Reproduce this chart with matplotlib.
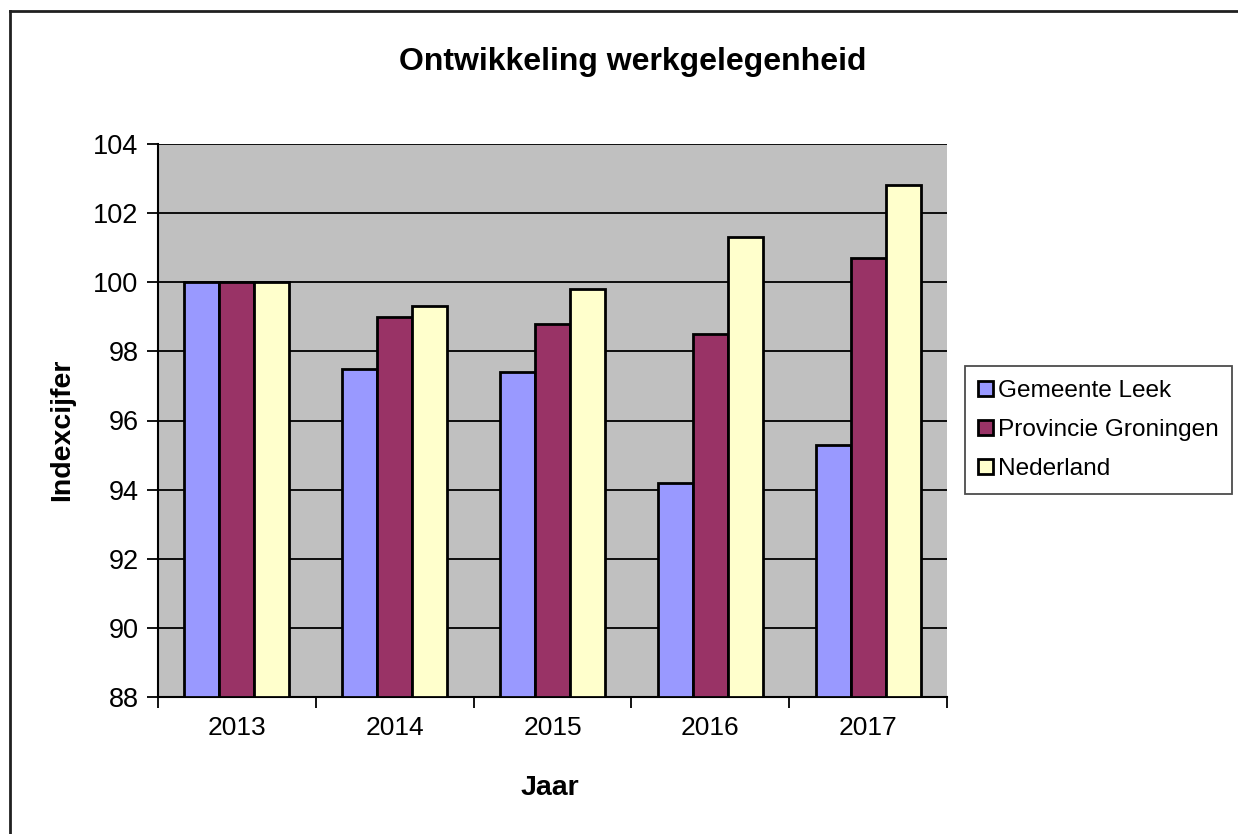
import numpy as np
import matplotlib
matplotlib.use('Agg')
from matplotlib import pyplot
from matplotlib.lines import Line2D

pyplot.rcParams['font.family'] = ['Liberation Sans', 'DejaVu Sans']

# data
YEARS = ['2013', '2014', '2015', '2016', '2017']
LEEK = [100.0, 97.5, 97.4, 94.2, 95.3]
GRONINGEN = [100.0, 99.0, 98.8, 98.5, 100.7]
NEDERLAND = [100.0, 99.3, 99.8, 101.3, 102.8]
SERIES_NAMES = ['Gemeente Leek', 'Provincie Groningen', 'Nederland']
COLORS = ['#9999FF', '#993366', '#FFFFCC']

W, H = 1238, 834


def main():
    figure = pyplot.figure(figsize=(W / 100, H / 100), dpi=100)
    axes = figure.add_axes([158 / W, 1 - 697 / H, (947 - 158) / W, (697 - 144) / H])
    axes.set_facecolor('#C0C0C0')

    x = np.arange(len(YEARS))
    bar_w = 0.222
    base = 88
    for i, (vals, name, color) in enumerate(zip([LEEK, GRONINGEN, NEDERLAND], SERIES_NAMES, COLORS)):
        v = np.array(vals)
        axes.bar(x + (i - 1) * bar_w, v - base, bottom=base, width=bar_w, color=color,
                 edgecolor='black', linewidth=2, label=name, zorder=3)

    axes.set_ylim(88, 104)
    axes.set_xlim(-0.5, len(YEARS) - 0.5)
    axes.set_yticks(np.arange(88, 105, 2))
    axes.yaxis.grid(True, color='black', linewidth=1.3, zorder=1)
    axes.set_axisbelow(True)

    # labels in the middle, ticks between categories
    axes.set_xticks(x)
    axes.set_xticklabels(YEARS)
    axes.set_xticks(np.arange(-0.5, len(YEARS)), minor=True)
    axes.tick_params(axis='x', which='major', length=0, labelsize=19, pad=14)
    axes.tick_params(axis='x', which='minor', length=8, width=1.3, direction='out')
    axes.tick_params(axis='y', length=8, width=1.3, labelsize=19.5, pad=6)

    for side in ['top', 'right']:
        axes.spines[side].set_visible(False)
    for side in ['left', 'bottom']:
        axes.spines[side].set_linewidth(1.5)

    figure.text(633 / W, 1 - 62 / H, 'Ontwikkeling werkgelegenheid',
                ha='center', va='center', fontsize=23, fontweight='bold')
    figure.text(62 / W, 1 - 430 / H, 'Indexcijfer', rotation=90, ha='center', va='center',
                fontsize=20.5, fontweight='bold')
    figure.text(550 / W, 1 - 788 / H, 'Jaar', ha='center', va='center',
                fontsize=20.5, fontweight='bold')

    legend = figure.legend(loc='center left', bbox_to_anchor=(965 / W, 1 - 430 / H),
                           fontsize=17.6, frameon=True, fancybox=False, handlelength=0.6,
                           handleheight=0.6, handletextpad=0.2, labelspacing=0.7,
                           borderpad=0.55, borderaxespad=0)
    legend.get_frame().set_edgecolor('#202020')
    legend.get_frame().set_linewidth(1.3)

    # figure border (top and left only)
    figure.add_artist(Line2D([10 / W, 1], [1 - 11 / H, 1 - 11 / H], color='#202020',
                             linewidth=2, transform=figure.transFigure))
    figure.add_artist(Line2D([10 / W, 10 / W], [0, 1 - 11 / H], color='#202020',
                             linewidth=2, transform=figure.transFigure))

    pyplot.savefig('out.png', dpi=100)


main()
